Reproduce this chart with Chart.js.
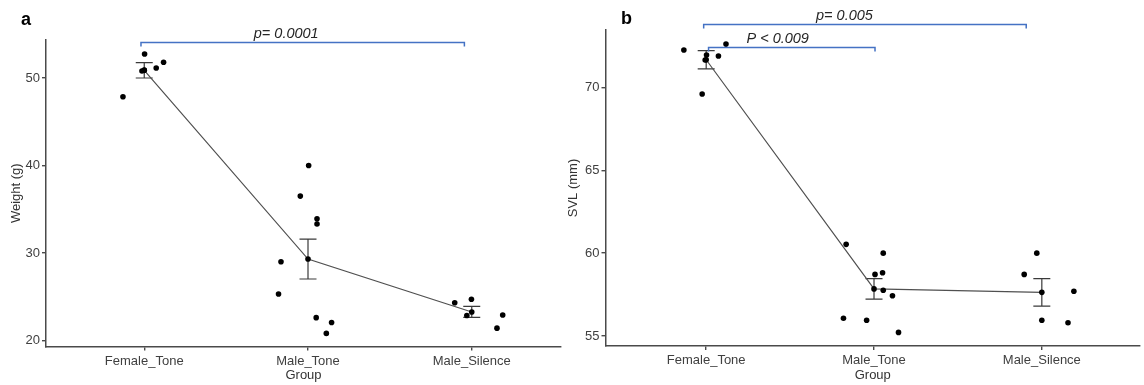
<!DOCTYPE html>
<html>
<head>
<meta charset="utf-8">
<script src="https://cdn.jsdelivr.net/npm/chart.js@4/dist/chart.umd.min.js"></script>
<style>
  html, body { margin: 0; padding: 0; background: #ffffff; }
  #wrap { position: relative; width: 1144px; height: 385px; background: #ffffff; overflow: hidden; }
  canvas { position: absolute; top: 0; }
</style>
</head>
<body>
<div id="wrap">
  <canvas id="chartA" width="565" height="385" style="left:0px;width:565px;height:385px"></canvas>
  <canvas id="chartB" width="579" height="385" style="left:565px;width:579px;height:385px"></canvas>
</div>
<script>
// ---------------- data ----------------
const groups = ['Female_Tone', 'Male_Tone', 'Male_Silence'];

// Panel a: Weight (g)
const weightFemale      = [52.75, 50.8, 50.9, 51.15, 51.8, 47.86];
const weightMaleTone    = [40.0, 36.5, 33.9, 33.3, 29.0, 25.3, 22.6, 22.05, 20.8];
const weightMaleSilence = [24.3, 24.7, 22.85, 21.4, 22.9];
const weightFemaleJitter      = [0.002, -0.014, 0.0, 0.073, 0.118, -0.13];
const weightMaleToneJitter    = [0.004, -0.047, 0.055, 0.055, -0.165, -0.18, 0.05, 0.144, 0.112];
const weightMaleSilenceJitter = [-0.104, -0.002, -0.03, 0.154, 0.189];
const weightMean = [50.88, 29.3, 23.25];
const weightSE   = [0.875, 2.28, 0.63];
const weightTicks = [20, 30, 40, 50];

// Panel b: SVL (mm)
const svlFemale      = [72.25, 72.61, 71.95, 71.65, 71.89, 69.6];
const svlMaleTone    = [60.53, 56.07, 60.0, 58.72, 58.82, 57.76, 57.43, 55.95, 55.22];
const svlMaleSilence = [60.0, 58.72, 57.7, 55.95, 55.8];
const svlFemaleJitter      = [-0.133, 0.118, 0.002, -0.006, 0.073, -0.024];
const svlMaleToneJitter    = [-0.166, -0.182, 0.055, 0.006, 0.051, 0.055, 0.11, -0.044, 0.146];
const svlMaleSilenceJitter = [-0.03, -0.105, 0.191, 0.0, 0.156];
const svlMean = [71.665, 57.845, 57.635];
const svlSE   = [0.545, 0.615, 0.825];
const svlTicks = [55, 60, 65, 70];

// significance annotations (group index units / data units)
const weightBrackets = [
  { from: -0.02, to: 1.955, y: 54.15, label: 'p= 0.0001', labelX: 0.867 }
];
const svlBrackets = [
  { from: -0.015, to: 1.907, y: 73.84, label: 'p= 0.005', labelX: 0.824 },
  { from: 0.014, to: 1.006, y: 72.43, label: 'P < 0.009', labelX: 0.426 }
];

// ---------------- helpers ----------------
const FONT = "'Liberation Sans', Arial, sans-serif";
const AXIS_COLOR = '#4a4a4a';
const TEXT_COLOR = '#404040';

function toPoints(values, groupIndex, jitter) {
  return values.map((v, i) => ({ x: groupIndex + jitter[i], y: v }));
}

const errorBarPlugin = {
  id: 'errorBars',
  beforeDatasetsDraw(chart, args, opts) {
    const { ctx, scales: { x, y } } = chart;
    ctx.save();
    ctx.strokeStyle = '#3a3a3a';
    ctx.lineWidth = 1.2;
    opts.mean.forEach((m, i) => {
      const px = x.getPixelForValue(i);
      const top = y.getPixelForValue(m + opts.se[i]);
      const bot = y.getPixelForValue(m - opts.se[i]);
      const hw = 8.5;
      ctx.beginPath();
      ctx.moveTo(px, top); ctx.lineTo(px, bot);
      ctx.moveTo(px - hw, top); ctx.lineTo(px + hw, top);
      ctx.moveTo(px - hw, bot); ctx.lineTo(px + hw, bot);
      ctx.stroke();
    });
    ctx.restore();
  }
};

const annotationPlugin = {
  id: 'annot',
  afterDraw(chart, args, opts) {
    const { ctx, scales: { x, y } } = chart;
    ctx.save();
    opts.brackets.forEach(b => {
      const x1 = x.getPixelForValue(b.from);
      const x2 = x.getPixelForValue(b.to);
      const py = Math.round(y.getPixelForValue(b.y)) + 0.5;
      ctx.strokeStyle = '#4472C4';
      ctx.lineWidth = 1.5;
      ctx.beginPath();
      ctx.moveTo(x1, py + 4); ctx.lineTo(x1, py); ctx.lineTo(x2, py); ctx.lineTo(x2, py + 4);
      ctx.stroke();
      ctx.fillStyle = '#262626';
      ctx.font = "italic 14.5px " + FONT;
      ctx.textAlign = 'center';
      ctx.textBaseline = 'alphabetic';
      ctx.fillText(b.label, x.getPixelForValue(b.labelX), py - 4.5);
    });
    ctx.fillStyle = '#000000';
    ctx.font = "bold 18px " + FONT;
    ctx.textAlign = 'left';
    ctx.textBaseline = 'alphabetic';
    ctx.fillText(opts.letter, opts.letterX, opts.letterY);
    ctx.restore();
  }
};

function makeChart(id, cfg) {
  const H = 385;
  return new Chart(document.getElementById(id), {
    type: 'scatter',
    data: {
      datasets: [
        {
          type: 'line',
          data: cfg.mean.map((m, i) => ({ x: i, y: m })),
          borderColor: '#505050',
          borderWidth: 1.2,
          pointRadius: 2.8,
          pointBackgroundColor: '#000000',
          pointBorderWidth: 0,
          fill: false,
          tension: 0,
          order: 2
        },
        {
          type: 'scatter',
          data: [].concat(...cfg.series.map((s, gi) => toPoints(s, gi, cfg.jitter[gi]))),
          pointRadius: 2.8,
          pointBackgroundColor: '#000000',
          pointBorderWidth: 0,
          order: 1
        }
      ]
    },
    options: {
      responsive: false,
      animation: false,
      devicePixelRatio: 1,
      events: [],
      layout: { padding: { left: 0, top: cfg.top, right: cfg.right, bottom: 0 } },
      plugins: {
        legend: { display: false },
        tooltip: { enabled: false },
        errorBars: { mean: cfg.mean, se: cfg.se },
        annot: { brackets: cfg.brackets, letter: cfg.letter, letterX: cfg.letterX, letterY: cfg.letterY }
      },
      scales: {
        x: {
          type: 'linear',
          min: -0.6,
          max: cfg.xMax,
          afterBuildTicks: s => { s.ticks = [0, 1, 2].map(v => ({ value: v })); },
          afterFit: s => { s.height = H - cfg.bottom; },
          ticks: {
            callback: v => groups[v],
            color: TEXT_COLOR,
            font: { family: FONT, size: 13 },
            padding: 3,
            autoSkip: false,
            maxRotation: 0
          },
          grid: { drawOnChartArea: false, drawTicks: true, tickLength: 4, color: AXIS_COLOR, lineWidth: 1.4 },
          border: { display: true, color: AXIS_COLOR, width: 1.5 },
          title: {
            display: true, text: 'Group', color: '#333333',
            font: { family: FONT, size: 13 }, padding: { top: 0, bottom: 2 }
          }
        },
        y: {
          type: 'linear',
          min: cfg.yMin,
          max: cfg.yMax,
          afterBuildTicks: s => { s.ticks = cfg.yTicks.map(v => ({ value: v })); },
          afterFit: s => { s.width = cfg.left; },
          ticks: {
            color: TEXT_COLOR,
            font: { family: FONT, size: 13 },
            padding: 2
          },
          grid: { drawOnChartArea: false, drawTicks: true, tickLength: 4, color: AXIS_COLOR, lineWidth: 1.4 },
          border: { display: true, color: AXIS_COLOR, width: 1.5 },
          title: {
            display: true, text: cfg.yTitle, color: '#333333',
            font: { family: FONT, size: 13 }, padding: { top: cfg.yTitlePad, bottom: 0 }
          }
        }
      }
    },
    plugins: [errorBarPlugin, annotationPlugin]
  });
}

makeChart('chartA', {
  series: [weightFemale, weightMaleTone, weightMaleSilence],
  jitter: [weightFemaleJitter, weightMaleToneJitter, weightMaleSilenceJitter],
  mean: weightMean, se: weightSE,
  yTicks: weightTicks, yMin: 19.3, yMax: 54.35,
  xMax: 2.545,
  yTitle: 'Weight (g)', yTitlePad: 9,
  left: 46, top: 40, right: 4, bottom: 346.5,
  brackets: weightBrackets,
  letter: 'a', letterX: 21, letterY: 25
});

makeChart('chartB', {
  series: [svlFemale, svlMaleTone, svlMaleSilence],
  jitter: [svlFemaleJitter, svlMaleToneJitter, svlMaleSilenceJitter],
  mean: svlMean, se: svlSE,
  yTicks: svlTicks, yMin: 54.4, yMax: 73.46,
  xMax: 2.585,
  yTitle: 'SVL (mm)', yTitlePad: 1,
  left: 40.5, top: 30, right: 0, bottom: 346,
  brackets: svlBrackets,
  letter: 'b', letterX: 56, letterY: 24
});
</script>
</body>
</html>
